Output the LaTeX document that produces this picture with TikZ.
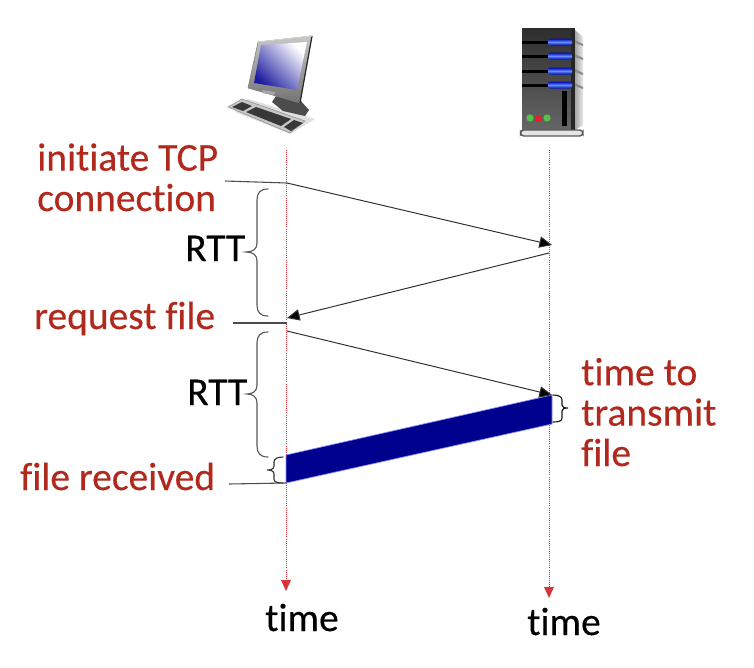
\documentclass[tikz,border=0pt]{standalone}
\usepackage{fontspec}
\setmainfont[Ligatures=CommonOff,FakeBold=0.35]{Carlito}
\usetikzlibrary{arrows.meta,shadings}
\definecolor{lblred}{HTML}{B1291D}
\definecolor{axisred}{HTML}{D8343A}
\definecolor{barblue}{HTML}{00008F}
\definecolor{ledg}{HTML}{55C24A}
\definecolor{ledr}{HTML}{E0202A}
\definecolor{slotblue}{HTML}{5F8FF0}
\definecolor{screenmid}{HTML}{B4B4E6}
\definecolor{screendark}{HTML}{1C1CA0}
\newcommand{\lbltext}{\fontsize{29.6}{30.3}\selectfont}
\tikzset{
  lbl/.style={font=\lbltext,text=lblred,align=left,inner sep=0pt},
  blk/.style={font=\lbltext,text=black,inner sep=0pt},
  axisline/.style={draw=axisred,line width=0.55pt,densely dotted},
  axishead/.style={fill=axisred,draw=none},
  msg/.style={draw=black!80,line width=0.75pt,-{Triangle[length=9.5pt,width=8.5pt,fill=black]}},
  tick/.style={draw=black!70,line width=0.8pt},
  bracestyle/.style={draw=black!65,line width=0.85pt,line cap=round},
}
\begin{document}
\begin{tikzpicture}[x=0.75pt,y=-0.75pt]
\useasboundingbox (0,0) rectangle (754,668);
\fill[white] (0,0) rectangle (754,668);

% ---- client computer
\fill[black!12] (235,112) -- (248,99) -- (315,119) -- (290,134) -- cycle;
\fill[black!70] (272,102) -- (276,96) -- (292,96) -- (300,100) -- (309,110) -- (305,116) -- (283,111) -- cycle;
\shade[top color=black!22,bottom color=black!55,draw=black!50,line width=0.4pt] (258,42) -- (312,36) -- (300,103) -- (248,88) -- cycle;
\draw[black!85,line width=0.9pt] (312,36) -- (300,103);
\draw[black!18,line width=0.8pt] (258,42) -- (312,36);
\shade[shading=axis,left color=white,middle color=screenmid,right color=screendark,shading angle=-45] (261,45) -- (307,42) -- (297,90) -- (254,83) -- cycle;
\fill[black!35] (262,90) -- (275,92) -- (274,95) -- (262,93) -- cycle;
% keyboard
\path[fill=black!22,draw=black!45,line width=0.4pt] (228,107) -- (242,99) -- (305,121) -- (290,133) -- cycle;
\fill[black!78] (232,107) -- (242,102) -- (252,106) -- (243,111) -- cycle;
\fill[black!78] (246,112) -- (256,107) -- (291,119) -- (281,126) -- cycle;
\fill[black!78] (284,127) -- (294,120) -- (303,123) -- (291,131) -- cycle;

% ---- server
\shade[top color=black!82,bottom color=black!60] (522,28) rectangle (572,130);
\shade[left color=black!35,right color=black!8] (575,30) -- (583,37) -- (583,125) -- (575,130) -- cycle;
\fill[black!85] (571,28) rectangle (575,130);
\foreach \sy in {42,56,71,85}{
  \fill[black] (522,\sy-1.5) rectangle (549,\sy+1.5);
  \shade[top color=blue!75!black,bottom color=blue!75!black,middle color=slotblue,rounded corners=1.5pt] (548,\sy-3.5) rectangle (572,\sy+3.5);
  \fill[black!45] (575,\sy-2) -- (583,\sy+2) -- (583,\sy+4) -- (575,\sy+1) -- cycle;
}
\fill[black] (562,91) rectangle (567,126);
\fill[ledg] (530,118) circle (3.6);
\fill[ledr] (538.5,118.5) circle (3.6);
\fill[ledg] (547,118) circle (3.6);
\path[draw=black!65,fill=black!10,line width=1.1pt,rounded corners=2.5pt] (520.5,130) rectangle (583,136);

% ---- timelines
\coordinate (cTop) at (286,150);
\coordinate (cEnd) at (286,581);
\coordinate (sTop) at (549,150);
\coordinate (sEnd) at (549,588);
\draw[axisline] (cTop) -- (cEnd);
\draw[axisline] (sTop) -- (sEnd);
\fill[axishead] (281,580) -- (291,580) -- (286,591) -- cycle;
\fill[axishead] (544,587) -- (554,587) -- (549,598) -- cycle;

% ---- file bar
\coordinate (b1) at (286,455);
\coordinate (b2) at (552,395);
\coordinate (b3) at (552,424);
\coordinate (b4) at (286,483);
\path[fill=barblue,draw=blue!45!white,line width=0.5pt] (b1) -- (b2) -- (b3) -- (b4) -- cycle;

% ---- messages
\coordinate (m1a) at (287,183);
\coordinate (m1b) at (552,245);
\coordinate (m2a) at (549,253);
\coordinate (m2b) at (287,318);
\coordinate (m3a) at (287,331);
\coordinate (m3b) at (552,395);
\draw[msg] (m1a) -- (m1b);
\draw[msg] (m2a) -- (m2b);
\draw[msg] (m3a) -- (m3b);

% ---- tick lines
\coordinate (t1) at (225,181);
\coordinate (t2) at (233,323);
\coordinate (t2b) at (287,323);
\coordinate (t3) at (229,484);
\draw[tick] (t1) -- (m1a);
\draw[tick] (t2) -- (t2b);
\draw[tick] (t3) -- (b4);

% ---- braces
\draw[bracestyle] (268,189) .. controls (260,189) and (257,193) .. (257,200)
  -- (257,243) .. controls (257,249) and (253,252) .. (246,252)
  .. controls (253,252) and (257,255) .. (257,261)
  -- (257,305) .. controls (257,312) and (260,316) .. (268,316);
\draw[bracestyle] (268,332) .. controls (260,332) and (257,336) .. (257,343)
  -- (257,385) .. controls (257,391) and (253,394) .. (247,394)
  .. controls (253,394) and (257,397) .. (257,403)
  -- (257,446) .. controls (257,453) and (260,457) .. (268,457);
\draw[bracestyle,black!80] (283,457) .. controls (277,457) and (274,459) .. (274,462)
  -- (274,466) .. controls (274,469) and (271,470) .. (267,470)
  .. controls (271,470) and (274,471) .. (274,474)
  -- (274,479) .. controls (274,482) and (277,483) .. (283,483);
\draw[bracestyle,black!90] (553,395) .. controls (559,395) and (562,397) .. (562,400)
  -- (562,405) .. controls (562,407) and (564,408) .. (568,408)
  .. controls (564,408) and (562,409) .. (562,411)
  -- (562,418) .. controls (562,421) and (559,422) .. (553,422);

% ---- labels
\node[lbl,anchor=base west] (lInit) at (37,211) {initiate TCP\\connection};
\node[lbl,anchor=base west] (lReq) at (34,329) {request file};
\node[lbl,anchor=base west] (lRecv) at (20,490) {file received};
\node[lbl,anchor=base west] (lXmit) at (581,466) {time to\\transmit\\file};
\node[blk,anchor=base west] (rtt1) at (185,261) {RTT};
\node[blk,anchor=base west] (rtt2) at (187,405) {RTT};
\node[blk,anchor=base west] (time1) at (265,631) {time};
\node[blk,anchor=base west] (time2) at (527,635) {time};
\end{tikzpicture}
\end{document}
